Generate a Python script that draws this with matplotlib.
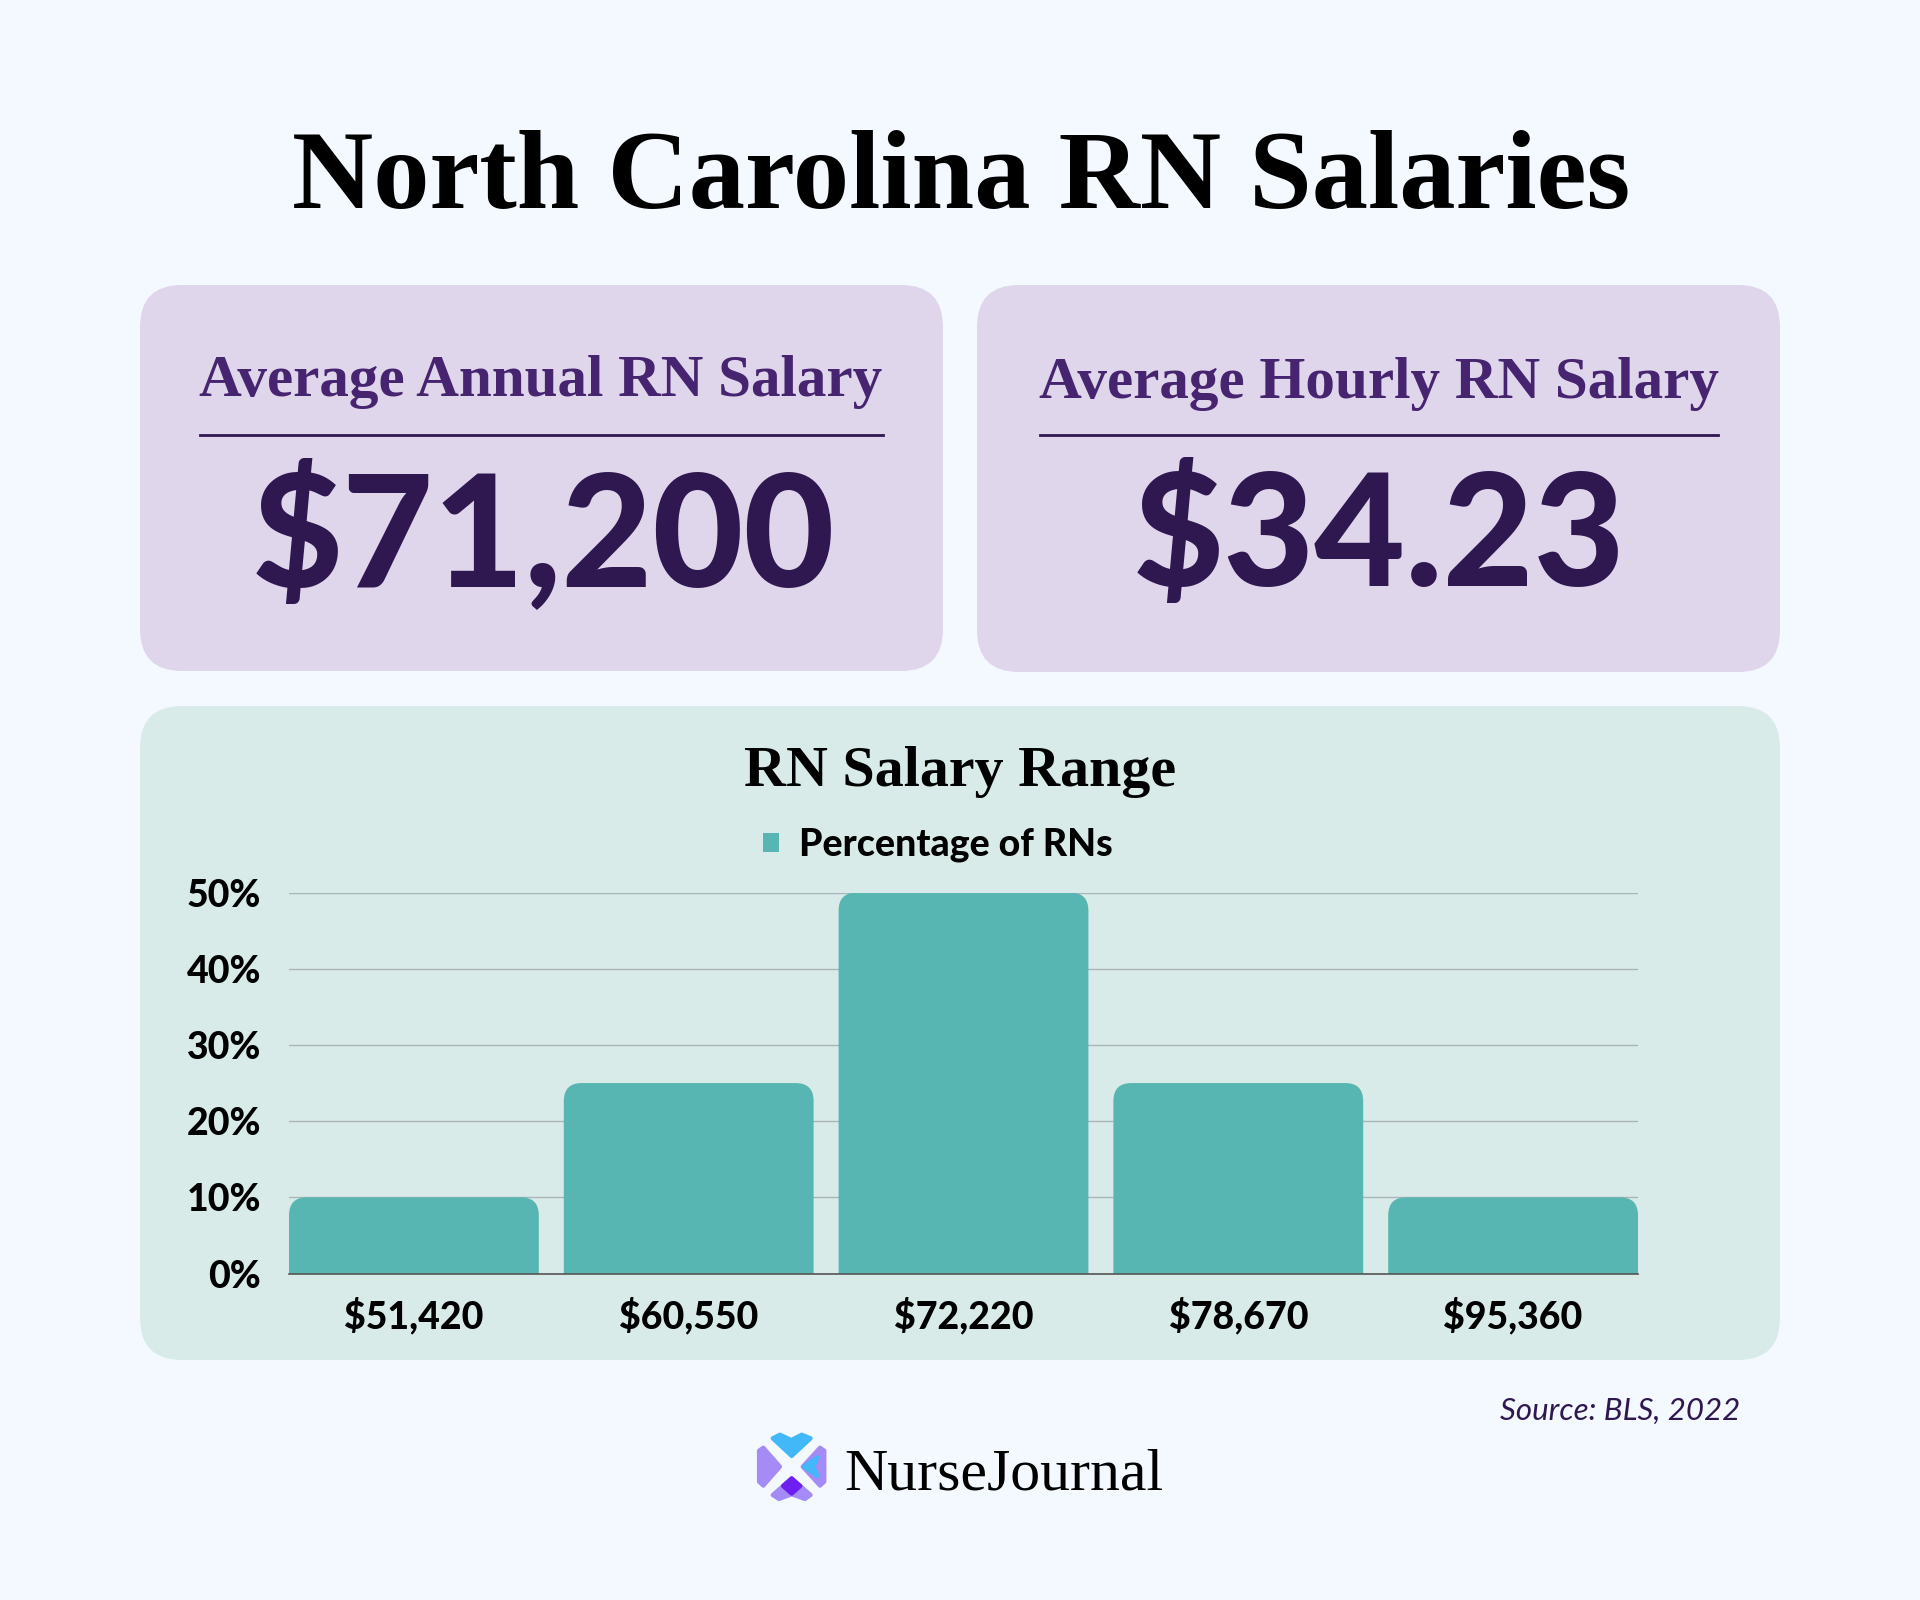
import numpy as np
import matplotlib
matplotlib.use('Agg')
import matplotlib.pyplot as plt
from matplotlib.patches import FancyBboxPatch, Polygon, Patch

salary_labels = ['$51,420', '$60,550', '$72,220', '$78,670', '$95,360']
pct_values = [10, 25, 50, 25, 10]
y_ticks = [0, 10, 20, 30, 40, 50]
y_tick_labels = ['0%', '10%', '20%', '30%', '40%', '50%']
annual_salary = '$71,200'
hourly_salary = '$34.23'

W, H = 1920, 1600
BG = '#f4f8ff'
PURPLE_BOX = '#e0d6ec'
GREEN_BOX = '#d9ebe8'
BAR = '#58b6b2'
HEAD = '#46246f'
DARK = '#2f1750'
SERIF = 'Liberation Serif'
SANS = 'Lato'

fig = plt.figure(figsize=(W / 100, H / 100), dpi=100, facecolor=BG)

# whole figure axes in pixels, for the panels and loose text
bg = fig.add_axes([0, 0, 1, 1])
bg.set_xlim(0, W)
bg.set_ylim(H, 0)
bg.axis('off')


def panel(x0, y0, x1, y1, color):
    r = 42
    bg.add_patch(FancyBboxPatch((x0 + r, y0 + r), x1 - x0 - 2 * r, y1 - y0 - 2 * r,
                                boxstyle='round,pad=%d,rounding_size=%d' % (r, r),
                                fc=color, ec='none'))


panel(140, 285, 943, 671, PURPLE_BOX)
panel(977, 285, 1780, 672, PURPLE_BOX)
panel(140, 706, 1780, 1360, GREEN_BOX)

bg.text(961, 208, 'North Carolina RN Salaries', ha='center', va='baseline',
        family=SERIF, weight='bold', fontsize=81, color='black')

bg.text(541, 396, 'Average Annual RN Salary', ha='center', va='baseline',
        family=SERIF, weight='bold', fontsize=42.6, color=HEAD)
bg.text(1379, 398, 'Average Hourly RN Salary', ha='center', va='baseline',
        family=SERIF, weight='bold', fontsize=42.6, color=HEAD)
bg.plot([200, 883], [435, 435], color=DARK, lw=2)
bg.plot([1040, 1718], [435, 435], color=DARK, lw=2)

bg.text(543, 586, annual_salary, ha='center', va='baseline',
        family=SANS, weight='black', fontsize=113, color=DARK)
bg.text(1379, 586, hourly_salary, ha='center', va='baseline',
        family=SANS, weight='black', fontsize=113, color=DARK)

bg.text(960, 786, 'RN Salary Range', ha='center', va='baseline',
        family=SERIF, weight='bold', fontsize=41.8, color='black')

bg.text(1740, 1420, 'Source: BLS, 2022', ha='right', va='baseline',
        family=SANS, style='italic', fontsize=22.5, color=DARK)

# logo
lx, ly = 730, 1400


def logo(pts, color):
    pts = [(lx + a / 3, ly + b / 3) for a, b in pts]
    bg.add_patch(Polygon(pts, closed=True, fc=color, ec=color, lw=3, joinstyle='round'))


logo([(128, 115), (150, 104), (184, 120), (215, 104), (242, 115), (185, 168)], '#42b8f8')
logo([(87, 152), (100, 143), (150, 200), (100, 257), (87, 245), (87, 155)], '#a48bf5')
logo([(283, 152), (270, 143), (218, 200), (270, 257), (283, 245), (283, 155)], '#a48bf5')
logo([(262, 172), (222, 200), (262, 228), (250, 200)], '#42b8f8')
logo([(128, 285), (185, 235), (242, 285), (225, 297), (185, 283), (147, 297)], '#a48bf5')
logo([(185, 235), (211, 258), (185, 281), (159, 258)], '#6c1ff0')

bg.text(844, 1489, 'NurseJournal', ha='left', va='baseline',
        family=SERIF, fontsize=43, color='black')

# bar chart
left, right, top, base = 289, 1638, 892.6, 1273.5
ax = fig.add_axes([left / W, 1 - base / H, (right - left) / W, (base - top) / H])
ax.set_facecolor('none')
bar_w = 250 / 275
xs = np.arange(len(pct_values))
ax.set_xlim(-bar_w / 2, xs[-1] + bar_w / 2)
ax.set_ylim(0, 50)

px_x = 1 / 275
px_y = 50 / (base - top)
for x, v in zip(xs, pct_values):
    # box runs below the axis, the clip leaves only the top corners round
    ax.add_patch(FancyBboxPatch((x - bar_w / 2, -5), bar_w, v + 5,
                                boxstyle='round,pad=0,rounding_size=%f' % (18 * px_x),
                                mutation_aspect=px_y / px_x,
                                fc=BAR, ec='none', zorder=3))

ax.set_xticks(xs)
ax.set_xticklabels(salary_labels)
ax.set_yticks(y_ticks)
ax.set_yticklabels(y_tick_labels)
ax.tick_params(length=0)
ax.tick_params(axis='x', pad=17)
ax.tick_params(axis='y', pad=20)
for lab in ax.get_xticklabels() + ax.get_yticklabels():
    lab.set_family(SANS)
    lab.set_weight('black')
    lab.set_fontsize(27)
    lab.set_color('black')
ax.grid(axis='y', color='#aab4bb', lw=1)
ax.set_axisbelow(True)
for s in ['top', 'left', 'right']:
    ax.spines[s].set_visible(False)
ax.spines['bottom'].set_color('#555555')
ax.spines['bottom'].set_linewidth(1.2)
ax.spines['bottom'].set_zorder(4)

leg = fig.legend(handles=[Patch(fc=BAR, ec='none', label='Percentage of RNs')],
                 loc='center', bbox_to_anchor=(938 / W, 1 - 845 / H), frameon=False,
                 prop={'family': SANS, 'weight': 'black', 'size': 27},
                 handlelength=0.42, handleheight=0.42, handletextpad=0.55)

fig.savefig('out.png', dpi=100, facecolor=BG)
